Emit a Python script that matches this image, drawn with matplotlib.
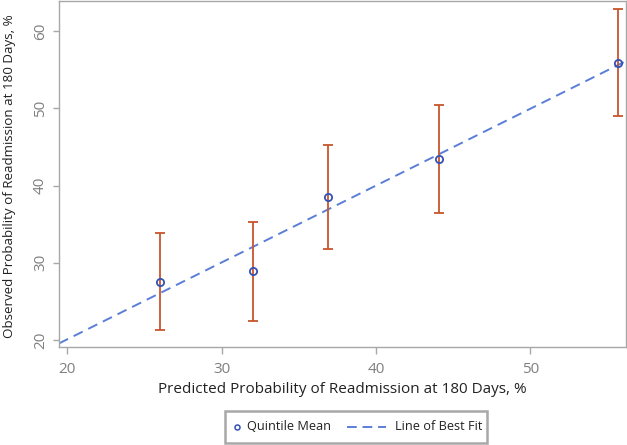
import matplotlib
matplotlib.use("Agg")
import matplotlib.pyplot as plt
from matplotlib.lines import Line2D
from matplotlib.patches import Rectangle
import numpy as np

predicted = [26.0, 32.0, 36.9, 44.1, 55.7]
observed = [27.5, 28.9, 38.5, 43.4, 55.9]
ci_low = [21.3, 22.5, 31.8, 36.4, 49.0]
ci_high = [33.8, 35.3, 45.3, 50.4, 62.8]
fit_slope = 0.995
fit_intercept = 0.2
xticks = [20, 30, 40, 50]
yticks = [20, 30, 40, 50, 60]
legend_labels = ['Quintile Mean', 'Line of Best Fit']

plt.rcParams['font.family'] = ['Open Sans', 'DejaVu Sans']

W, H = 627, 445
fig = plt.figure(figsize=(W / 100, H / 100), dpi=100)
ax = fig.add_axes([59/W, 1 - 347/H, (626-59)/W, (347-1)/H])

LINE_C = '#5A7ED8'
MARK_C = '#3352B5'
ERR_C = '#C8552C'
SPINE_C = '#A8A8A8'

xlim = (19.46, 56.2)
ylim = (19.1, 63.9)
ax.set_xlim(*xlim)
ax.set_ylim(*ylim)

xs = np.array(xlim)
ax.plot(xs, fit_slope * xs + fit_intercept, color=LINE_C, lw=1.4,
        dashes=(5.2, 3.2), zorder=2)

obs = np.array(observed)
yerr = [obs - np.array(ci_low), np.array(ci_high) - obs]
ax.errorbar(predicted, observed, yerr=yerr, fmt='none', ecolor=ERR_C,
            elinewidth=1.3, capsize=3.6, capthick=1.3, zorder=3)
ax.plot(predicted, observed, 'o', mfc='none', mec=MARK_C, ms=5.2, mew=1.3,
        zorder=4, linestyle='none')

ax.set_xticks(xticks)
ax.set_yticks(yticks)
ax.set_yticklabels([str(v) for v in yticks], rotation=90, va='center')
for s in ax.spines.values():
    s.set_color(SPINE_C)
    s.set_linewidth(1.0)
ax.tick_params(direction='out', width=1, color=SPINE_C,
               labelcolor='#7F7F7F', labelsize=11)
ax.tick_params(axis='x', length=5, pad=5.5)
ax.tick_params(axis='y', length=4, pad=4)

ax.set_xlabel('Predicted Probability of Readmission at 180 Days, %', fontsize=11,
              color='#222222')
ax.xaxis.set_label_coords(0.5, (347 - 382) / 346)
ylab = ax.set_ylabel('Observed Probability of Readmission at 180 Days, %',
                     fontsize=9.6, color='#222222')
ylab.set_va('center')
ax.yaxis.set_label_coords((10 - 59) / 567, (347 - 176) / 346)

# legend drawn in figure pixel positions
def fx(px):
    return px / W

def fy(py):
    return 1 - py / H

tf = fig.transFigure
fig.add_artist(Rectangle((fx(225), fy(443)), fx(487) - fx(225), fy(411) - fy(443),
                         transform=tf, fill=False, edgecolor=SPINE_C, lw=1.8))
ly = fy(427)
fig.add_artist(Line2D([fx(237)], [ly], transform=tf, marker='o', mfc='none',
                      mec=MARK_C, ms=3.6, mew=1.1, linestyle='none'))
fig.text(fx(247), ly, legend_labels[0], transform=tf, ha='left', va='center',
         fontsize=9.2, color='#222222')
fig.add_artist(Line2D([fx(347), fx(386)], [ly, ly], transform=tf, color=LINE_C,
                      lw=1.4, dashes=(5.0, 3.0)))
fig.text(fx(395), ly, legend_labels[1], transform=tf, ha='left', va='center',
         fontsize=9.2, color='#222222')

fig.savefig('out.png', dpi=100)
